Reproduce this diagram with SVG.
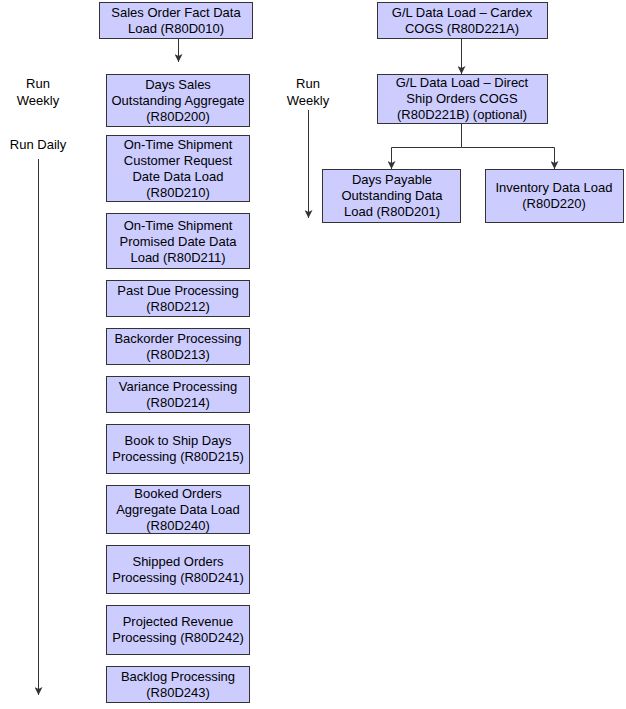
<svg xmlns="http://www.w3.org/2000/svg" width="626" height="709" viewBox="0 0 626 709">
<style>
.box{fill:#ccccff;stroke:#333333;stroke-width:1}
text{font-family:"Liberation Sans",Arial,sans-serif;font-size:13px;fill:#000;text-anchor:middle}
.conn{fill:none;stroke:#333333;stroke-width:1}
</style>
<defs>
<marker id="ah" markerWidth="8" markerHeight="8" refX="8" refY="4" orient="auto" markerUnits="userSpaceOnUse">
<path d="M0,0 L8,4 L0,8 L2,4 z" fill="#333333"/>
</marker>
</defs>
<rect width="626" height="709" fill="#ffffff"/>
<g id="labels">
<text x="38" y="88">Run</text>
<text x="38" y="105">Weekly</text>
<text x="38" y="149">Run Daily</text>
<text x="308" y="88">Run</text>
<text x="308" y="105">Weekly</text>
</g>
<g id="connectors">
<path class="conn" d="M178.5,38 V62" marker-end="url(#ah)"/>
<path class="conn" d="M38.5,159 V695" marker-end="url(#ah)"/>
<path class="conn" d="M308.5,110 V218" marker-end="url(#ah)"/>
<path class="conn" d="M461.5,38 V74" marker-end="url(#ah)"/>
<path class="conn" d="M461.5,123 V147.5 H391.5 V169" marker-end="url(#ah)"/>
<path class="conn" d="M461.5,147.5 H554.5 V169" marker-end="url(#ah)"/>
</g>
<g id="n-r80d010"><rect class="box" x="99.5" y="2.5" width="153" height="36"/><text x="176" y="17">Sales Order Fact Data</text><text x="176" y="33">Load (R80D010)</text></g>
<g id="n-r80d200"><rect class="box" x="106.5" y="74.5" width="143" height="52"/><text x="178" y="89">Days Sales</text><text x="178" y="105">Outstanding Aggregate</text><text x="178" y="121">(R80D200)</text></g>
<g id="n-r80d210"><rect class="box" x="106.5" y="135.5" width="143" height="66"/><text x="178" y="149">On-Time Shipment</text><text x="178" y="165">Customer Request</text><text x="178" y="181">Date Data Load</text><text x="178" y="197">(R80D210)</text></g>
<g id="n-r80d211"><rect class="box" x="106.5" y="213.5" width="143" height="55"/><text x="178" y="229.5">On-Time Shipment</text><text x="178" y="245.5">Promised Date Data</text><text x="178" y="261.5">Load (R80D211)</text></g>
<g id="n-r80d212"><rect class="box" x="106.5" y="280.5" width="143" height="36"/><text x="178" y="295">Past Due Processing</text><text x="178" y="311">(R80D212)</text></g>
<g id="n-r80d213"><rect class="box" x="106.5" y="328.5" width="143" height="36"/><text x="178" y="343">Backorder Processing</text><text x="178" y="359">(R80D213)</text></g>
<g id="n-r80d214"><rect class="box" x="106.5" y="376.5" width="143" height="36"/><text x="178" y="391">Variance Processing</text><text x="178" y="407">(R80D214)</text></g>
<g id="n-r80d215"><rect class="box" x="106.5" y="424.5" width="143" height="49"/><text x="178" y="445">Book to Ship Days</text><text x="178" y="461">Processing (R80D215)</text></g>
<g id="n-r80d240"><rect class="box" x="106.5" y="485.5" width="143" height="48"/><text x="178" y="498">Booked Orders</text><text x="178" y="514">Aggregate Data Load</text><text x="178" y="530">(R80D240)</text></g>
<g id="n-r80d241"><rect class="box" x="106.5" y="545.5" width="143" height="48"/><text x="178" y="566">Shipped Orders</text><text x="178" y="582">Processing (R80D241)</text></g>
<g id="n-r80d242"><rect class="box" x="106.5" y="605.5" width="143" height="49"/><text x="178" y="626">Projected Revenue</text><text x="178" y="642">Processing (R80D242)</text></g>
<g id="n-r80d243"><rect class="box" x="106.5" y="666.5" width="143" height="36"/><text x="178" y="681">Backlog Processing</text><text x="178" y="697">(R80D243)</text></g>
<g id="n-r80d221a"><rect class="box" x="377.5" y="2.5" width="170" height="36"/><text x="462" y="17">G/L Data Load – Cardex</text><text x="462" y="33">COGS (R80D221A)</text></g>
<g id="n-r80d221b"><rect class="box" x="377.5" y="74.5" width="170" height="49"/><text x="462" y="87">G/L Data Load – Direct</text><text x="462" y="103">Ship Orders COGS</text><text x="462" y="119">(R80D221B) (optional)</text></g>
<g id="n-r80d201"><rect class="box" x="322.5" y="169.5" width="138" height="53"/><text x="392" y="184">Days Payable</text><text x="392" y="200">Outstanding Data</text><text x="392" y="216">Load (R80D201)</text></g>
<g id="n-r80d220"><rect class="box" x="485.5" y="169.5" width="138" height="53"/><text x="554" y="192">Inventory Data Load</text><text x="554" y="208">(R80D220)</text></g>
</svg>
